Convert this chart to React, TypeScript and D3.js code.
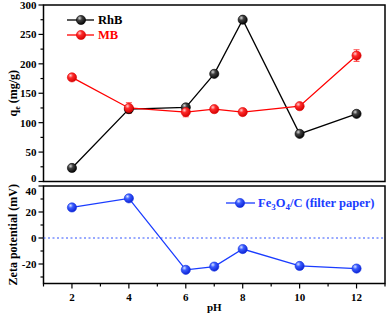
import React from 'react';
import * as d3 from 'd3';

const PH = [2, 4, 6, 7, 8, 10, 12];
const RHB_QE = [23, 123, 126, 183, 275, 81, 115];
const MB_QE = [177, 125, 118, 123, 118, 128, 214];
const MB_ERR = [0, 9, 8, 0, 0, 0, 10];
const ZETA = [23.5, 30.5, -24.5, -22, -8.5, -21.5, -23.5];

const X_TICKS = [2, 4, 6, 8, 10, 12];
const Q_TICKS = [0, 50, 100, 150, 200, 250, 300];
const Z_TICKS = [-20, 0, 20, 40];

const FONT = '"Liberation Serif", "Times New Roman", serif';

const W = 387;
const H = 315;
const left = 43.5;
const right = 385;

const x = d3.scaleLinear().domain([1, 13]).range([left, right]);
const yq = d3.scaleLinear().domain([0, 300]).range([181.5, 5]);
const yz = d3.scaleLinear().domain([-35, 40]).range([283.5, 186]);

const Marker: React.FC<{ cx: number; cy: number; grad: string; stroke: string }> = ({ cx, cy, grad, stroke }) => (
  <circle cx={cx} cy={cy} r={4.6} fill={`url(#${grad})`} stroke={stroke} strokeWidth={0.6} />
);

const App: React.FC = () => {
  const line = d3.line<[number, number]>();
  const rhbPath = line(PH.map((p, i) => [x(p), yq(RHB_QE[i])]))!;
  const mbPath = line(PH.map((p, i) => [x(p), yq(MB_QE[i])]))!;
  const zPath = line(PH.map((p, i) => [x(p), yz(ZETA[i])]))!;

  const qMinor = d3.range(0, 301, 25);
  const zMinor = d3.range(-30, 41, 10);
  const xMinor = d3.range(1, 14, 1);

  // nudge the labels where the two panels meet so they don't collide
  const qLabelY = (v: number) => (v === 0 ? yq(v) - 3 : yq(v));
  const zLabelY = (v: number) => (v === 40 ? yz(v) + 5.5 : yz(v));

  return (
    <svg width={W} height={H} style={{ position: 'absolute', left: 0, top: 0, background: '#fff' }} fontFamily={FONT}>
      <defs>
        <radialGradient id="gk" cx="0.35" cy="0.3" r="0.75">
          <stop offset="0" stopColor="#d8d8d8" />
          <stop offset="0.35" stopColor="#404040" />
          <stop offset="1" stopColor="#000" />
        </radialGradient>
        <radialGradient id="gr" cx="0.35" cy="0.3" r="0.75">
          <stop offset="0" stopColor="#ffd0d0" />
          <stop offset="0.35" stopColor="#ff2a2a" />
          <stop offset="1" stopColor="#d00000" />
        </radialGradient>
        <radialGradient id="gb" cx="0.35" cy="0.3" r="0.75">
          <stop offset="0" stopColor="#d8e4ff" />
          <stop offset="0.35" stopColor="#3a5cff" />
          <stop offset="1" stopColor="#0a1ed0" />
        </radialGradient>
      </defs>

      {/* frames */}
      <rect x={left} y={yq(300)} width={right - left} height={yq(0) - yq(300)} fill="none" stroke="#000" strokeWidth={1.5} />
      <rect x={left} y={yz(40)} width={right - left} height={yz(-35) - yz(40)} fill="none" stroke="#000" strokeWidth={1.5} />

      {/* top y ticks */}
      {qMinor.map((v) => (
        <line key={`qm${v}`} x1={left} x2={left - (v % 50 === 0 ? 5 : 3)} y1={yq(v)} y2={yq(v)} stroke="#000" strokeWidth={1.2} />
      ))}
      {Q_TICKS.map((v) => (
        <text key={`ql${v}`} x={left - 7} y={qLabelY(v)} dy="0.35em" textAnchor="end" fontSize={11} fontWeight="bold">{v}</text>
      ))}

      {/* bottom y ticks */}
      {zMinor.map((v) => (
        <line key={`zm${v}`} x1={left} x2={left - (v % 20 === 0 ? 5 : 3)} y1={yz(v)} y2={yz(v)} stroke="#000" strokeWidth={1.2} />
      ))}
      {Z_TICKS.map((v) => (
        <text key={`zl${v}`} x={left - 7} y={zLabelY(v)} dy="0.35em" textAnchor="end" fontSize={11} fontWeight="bold">{v}</text>
      ))}

      {/* x ticks */}
      {xMinor.map((v) => (
        <line key={`xm${v}`} x1={x(v)} x2={x(v)} y1={yz(-35)} y2={yz(-35) + (v % 2 === 0 ? 5 : 3)} stroke="#000" strokeWidth={1.2} />
      ))}
      {X_TICKS.map((v) => (
        <text key={`xl${v}`} x={x(v)} y={yz(-35) + 13.5} dy="0.35em" textAnchor="middle" fontSize={11} fontWeight="bold">{v}</text>
      ))}

      {/* axis titles */}
      <text x={x(7)} y={311} textAnchor="middle" fontSize={11} fontWeight="bold">pH</text>
      <text transform={`translate(17,${(yq(0) + yq(300)) / 2}) rotate(-90)`} textAnchor="middle" fontSize={12} fontWeight="bold">
        q<tspan fontSize={8} dy={3}>e</tspan><tspan dy={-3}> (mg/g)</tspan>
      </text>
      <text transform={`translate(17,${(yz(-35) + yz(40)) / 2}) rotate(-90)`} textAnchor="middle" fontSize={12} fontWeight="bold">
        Zeta potential (mV)
      </text>

      {/* zero line */}
      <line x1={left} x2={right} y1={yz(0)} y2={yz(0)} stroke="#3355ff" strokeWidth={1} strokeDasharray="2,2.5" />

      {/* series lines */}
      <path d={rhbPath} fill="none" stroke="#000" strokeWidth={1.3} />
      <path d={mbPath} fill="none" stroke="#ff0000" strokeWidth={1.3} />
      <path d={zPath} fill="none" stroke="#1a3cff" strokeWidth={1.3} />

      {/* error bars */}
      {PH.map((p, i) => MB_ERR[i] > 0 && (
        <g key={`e${p}`} stroke="#ff4040" strokeWidth={0.9}>
          <line x1={x(p)} x2={x(p)} y1={yq(MB_QE[i] - MB_ERR[i])} y2={yq(MB_QE[i] + MB_ERR[i])} />
          <line x1={x(p) - 3} x2={x(p) + 3} y1={yq(MB_QE[i] - MB_ERR[i])} y2={yq(MB_QE[i] - MB_ERR[i])} />
          <line x1={x(p) - 3} x2={x(p) + 3} y1={yq(MB_QE[i] + MB_ERR[i])} y2={yq(MB_QE[i] + MB_ERR[i])} />
        </g>
      ))}

      {/* markers */}
      {PH.map((p, i) => <Marker key={`k${p}`} cx={x(p)} cy={yq(RHB_QE[i])} grad="gk" stroke="#000" />)}
      {PH.map((p, i) => <Marker key={`r${p}`} cx={x(p)} cy={yq(MB_QE[i])} grad="gr" stroke="#e00000" />)}
      {PH.map((p, i) => <Marker key={`b${p}`} cx={x(p)} cy={yz(ZETA[i])} grad="gb" stroke="#1030e0" />)}

      {/* legends */}
      <line x1={67} x2={94} y1={20} y2={20} stroke="#000" strokeWidth={1.3} />
      <Marker cx={81} cy={20} grad="gk" stroke="#000" />
      <text x={98} y={20} dy="0.35em" fontSize={12.5} fontWeight="bold">RhB</text>
      <line x1={67} x2={94} y1={35} y2={35} stroke="#ff0000" strokeWidth={1.3} />
      <Marker cx={81} cy={35} grad="gr" stroke="#e00000" />
      <text x={98} y={35} dy="0.35em" fontSize={12.5} fontWeight="bold" fill="#ff0000">MB</text>

      <line x1={226} x2={255} y1={203} y2={203} stroke="#1a3cff" strokeWidth={1.3} />
      <Marker cx={240} cy={203} grad="gb" stroke="#1030e0" />
      <text x={258} y={203} dy="0.35em" fontSize={12.5} fontWeight="bold" fill="#1a3cff">
        Fe<tspan fontSize={9} dy={3}>3</tspan><tspan dy={-3}>O</tspan><tspan fontSize={9} dy={3}>4</tspan><tspan dy={-3}>/C (filter paper)</tspan>
      </text>
    </svg>
  );
};

export default App;
